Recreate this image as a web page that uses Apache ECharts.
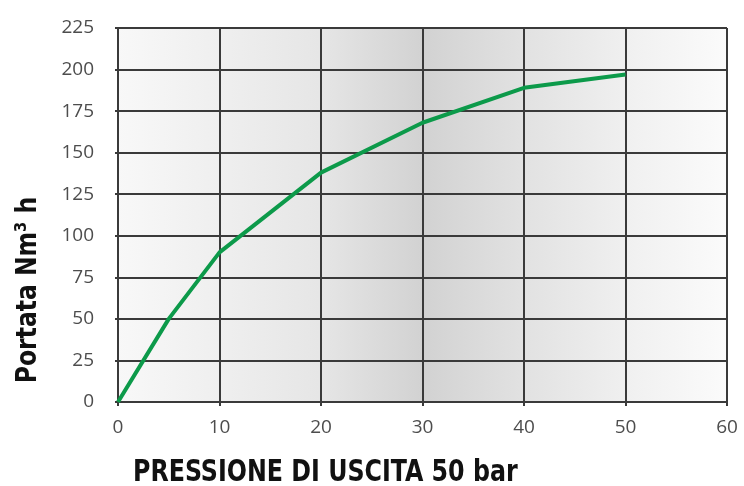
<!DOCTYPE html>
<html>
<head>
<meta charset="utf-8">
<script src="https://cdn.jsdelivr.net/npm/echarts@6/dist/echarts.min.js"></script>
<style>
  html, body { margin: 0; padding: 0; background: #fff; }
  #main { width: 744px; height: 486px; }
</style>
</head>
<body>
<div id="main"></div>
<script>
// pressione (bar) vs portata (Nm3/h)
const pressione = [0, 5, 10, 20, 30, 40, 50];
const portata = [0, 50, 90, 138, 168, 189, 197];
const xTitle = "PRESSIONE DI USCITA 50 bar";
const yTitle = "Portata Nm\u00b3 h";

const chart = echarts.init(document.getElementById("main"), null, { renderer: "canvas" });

const boldFont = '"DejaVu Sans Condensed", "Liberation Sans", Arial, sans-serif';
const tickFont = '"Open Sans", "DejaVu Sans", sans-serif';

const option = {
  animation: false,
  grid: {
    left: 118,
    right: 17,
    top: 28,
    bottom: 84,
    show: true,
    borderWidth: 0,
    backgroundColor: new echarts.graphic.LinearGradient(0, 0, 1, 0, [
      { offset: 0, color: "#f8f8f8" },
      { offset: 0.33, color: "#e6e6e6" },
      { offset: 0.5, color: "#d2d2d2" },
      { offset: 0.67, color: "#e2e2e2" },
      { offset: 0.85, color: "#f1f1f1" },
      { offset: 1, color: "#fbfbfb" },
    ]),
  },
  graphic: [
    {
      // x axis title
      type: "text",
      x: 133,
      y: 473,
      scaleX: 0.88,
      style: {
        text: xTitle,
        font: 'bold 30px ' + boldFont,
        fill: "#111",
        align: "left",
        verticalAlign: "middle",
      },
    },
    {
      // y axis title
      type: "text",
      x: 28,
      y: 290,
      rotation: Math.PI / 2,
      scaleX: 0.9,
      style: {
        text: yTitle,
        font: 'bold 29px ' + boldFont,
        fill: "#111",
        align: "center",
        verticalAlign: "middle",
      },
    },
  ],
  xAxis: {
    type: "value",
    min: 0,
    max: 60,
    interval: 10,
    axisLine: { show: true, lineStyle: { color: "#3a3a3a", width: 2 } },
    axisTick: { show: true, length: 4, lineStyle: { color: "#3a3a3a", width: 2 } },
    axisLabel: { margin: 16, fontFamily: tickFont, fontSize: 19, color: "#4d4d4d" },
    splitLine: { show: true, lineStyle: { color: "#3a3a3a", width: 2 } },
  },
  yAxis: {
    type: "value",
    min: 0,
    max: 225,
    interval: 25,
    axisLine: { show: true, lineStyle: { color: "#3a3a3a", width: 2 } },
    axisTick: { show: true, length: 3, lineStyle: { color: "#3a3a3a", width: 2 } },
    axisLabel: { margin: 24, fontFamily: tickFont, fontSize: 19, color: "#4d4d4d" },
    splitLine: { show: true, lineStyle: { color: "#3a3a3a", width: 2 } },
  },
  series: [
    {
      type: "line",
      data: pressione.map((p, i) => [p, portata[i]]),
      symbol: "none",
      lineStyle: { color: "#0c9a4a", width: 4 },
    },
  ],
};

chart.setOption(option);
</script>
</body>
</html>
